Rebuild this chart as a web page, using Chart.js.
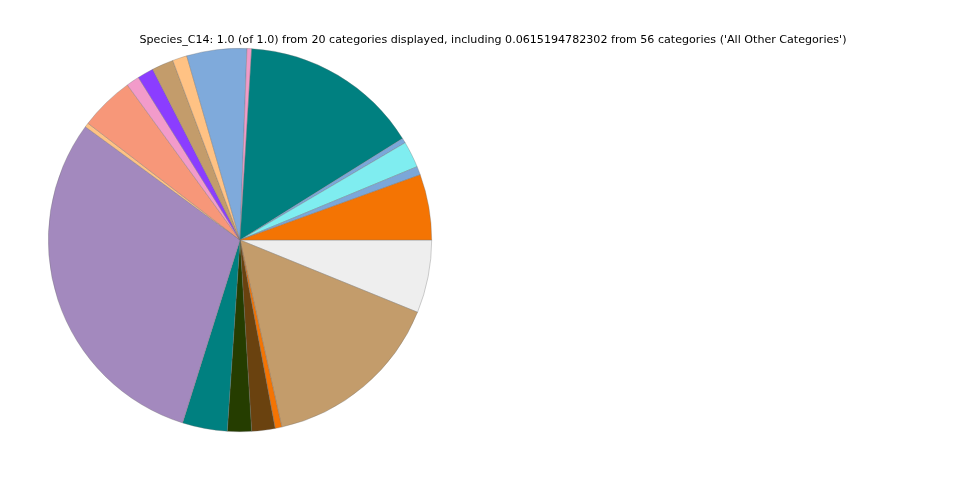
<!DOCTYPE html>
<html>
<head>
<meta charset="utf-8">
<script src="https://cdn.jsdelivr.net/npm/chart.js@4/dist/chart.umd.min.js"></script>
<style>
  html, body { margin: 0; padding: 0; background: #ffffff; }
  #wrap { position: relative; width: 960px; height: 480px; }
  #title {
    position: absolute; left: 0; width: 986px; top: 32px;
    text-align: center; font-family: "DejaVu Sans", sans-serif; font-size: 11.1px;
    color: #000; white-space: nowrap; line-height: 16px;
  }
</style>
</head>
<body>
<div id="wrap">
  <canvas id="c" width="960" height="480"></canvas>
  <div id="title">Species_C14: 1.0 (of 1.0) from 20 categories displayed, including 0.0615194782302 from 56 categories ('All Other Categories')</div>
</div>
<script>
// Slice shares, listed counter-clockwise starting from 3 o'clock
const categories = [
  "Category 1", "Category 2", "Category 3", "Category 4", "Category 5",
  "Category 6", "Category 7", "Category 8", "Category 9", "Category 10",
  "Category 11", "Category 12", "Category 13", "Category 14", "Category 15",
  "Category 16", "Category 17", "Category 18", "Category 19", "All Other Categories"
];
const shares = [
  0.0553, 0.0072, 0.0222, 0.0042, 0.1514,
  0.0039, 0.0506, 0.0122, 0.0183, 0.0136,
  0.0111, 0.0458, 0.0036, 0.3022, 0.0378,
  0.0203, 0.0197, 0.0056, 0.1535, 0.0615194782302
];
const sliceColors = [
  "#F47403", "#7BA7D9", "#7FEDF0", "#7BA7D9", "#008080",
  "#F09BC8", "#7FAADB", "#FFC284", "#C39C6B", "#8B3DFF",
  "#F29BCA", "#F79779", "#FFC284", "#A389BE", "#008080",
  "#253D00", "#6A420F", "#F47403", "#C39C6B", "#EEEEEE"
];

// Chart.js sweeps clockwise, so feed the slices in reverse order
const labelsCW = categories.slice().reverse();
const dataCW = shares.slice().reverse();
const colorsCW = sliceColors.slice().reverse();

new Chart(document.getElementById("c"), {
  type: "pie",
  data: {
    labels: labelsCW,
    datasets: [{
      data: dataCW,
      backgroundColor: colorsCW,
      borderColor: "rgba(110,110,110,0.55)",
      borderWidth: 0.6
    }]
  },
  options: {
    responsive: false,
    animation: false,
    rotation: 90,
    layout: { padding: { left: 48, right: 528, top: 48, bottom: 48 } },
    plugins: {
      legend: { display: false },
      tooltip: { enabled: false },
      title: { display: false }
    }
  }
});
</script>
</body>
</html>
